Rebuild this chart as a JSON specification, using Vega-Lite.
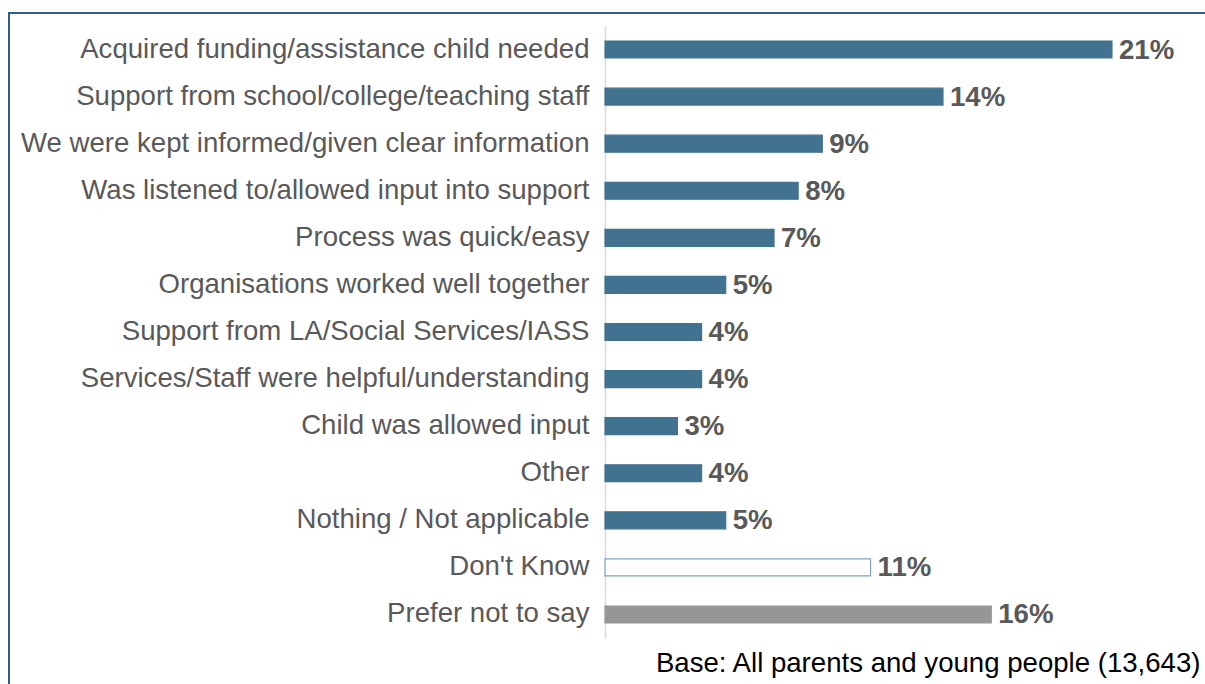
{
  "$schema": "https://vega.github.io/schema/vega-lite/v6.json",
  "autosize": {"type": "none"},
  "padding": {"left": 9, "top": 13, "right": 0, "bottom": 0},
  "width": 1200,
  "height": 700,
  "background": "white",
  "config": {
    "view": {"stroke": "#2E6089", "strokeWidth": 2},
    "font": "Liberation Sans"
  },
  "data": {
    "values": [
      {"label": "Acquired funding/assistance child needed", "pct": 0.21, "grp": "main"},
      {"label": "Support from school/college/teaching staff", "pct": 0.14, "grp": "main"},
      {"label": "We were kept informed/given clear information", "pct": 0.09, "grp": "main"},
      {"label": "Was listened to/allowed input into support", "pct": 0.08, "grp": "main"},
      {"label": "Process was quick/easy", "pct": 0.07, "grp": "main"},
      {"label": "Organisations worked well together", "pct": 0.05, "grp": "main"},
      {"label": "Support from LA/Social Services/IASS", "pct": 0.04, "grp": "main"},
      {"label": "Services/Staff were helpful/understanding", "pct": 0.04, "grp": "main"},
      {"label": "Child was allowed input", "pct": 0.03, "grp": "main"},
      {"label": "Other", "pct": 0.04, "grp": "main"},
      {"label": "Nothing / Not applicable", "pct": 0.05, "grp": "main"},
      {"label": "Don't Know", "pct": 0.11, "grp": "dk"},
      {"label": "Prefer not to say", "pct": 0.16, "grp": "pns"}
    ]
  },
  "encoding": {
    "y": {
      "field": "label",
      "type": "nominal",
      "sort": null,
      "scale": {"range": [13, 625], "paddingInner": 0.64, "paddingOuter": 0.32},
      "axis": {
        "title": null,
        "orient": "left",
        "offset": -596,
        "ticks": false,
        "domainColor": "#D9D9D9",
        "domainWidth": 1.5,
        "labelPadding": 16,
        "labelFontSize": 27.6,
        "labelColor": "#595959",
        "labelFont": "Liberation Sans",
        "labelLimit": 700
      }
    },
    "x": {
      "field": "pct",
      "type": "quantitative",
      "scale": {"domain": [-0.2469, 0.2502], "zero": false, "nice": false},
      "axis": {
        "orient": "bottom",
        "offset": -42,
        "domain": false,
        "ticks": false,
        "labels": false,
        "grid": false,
        "title": "Base: All parents and young people (13,643)",
        "titleAnchor": "end",
        "titleAlign": "right",
        "titleX": 1191,
        "titleY": 0,
        "titleBaseline": "alphabetic",
        "titleFontSize": 27.6,
        "titleFontWeight": "normal",
        "titleColor": "#000000",
        "titleFont": "Liberation Sans"
      }
    }
  },
  "layer": [
    {
      "mark": {"type": "bar", "strokeWidth": 1.2},
      "encoding": {
        "x": {"datum": 0},
        "x2": {"field": "pct"},
        "fill": {
          "field": "grp",
          "type": "nominal",
          "scale": {"domain": ["main", "dk", "pns"], "range": ["#41728F", "#FFFFFF", "#969696"]},
          "legend": null
        },
        "stroke": {
          "field": "grp",
          "type": "nominal",
          "scale": {"domain": ["main", "dk", "pns"], "range": ["#41728F", "#7FA3BC", "#969696"]},
          "legend": null
        }
      }
    },
    {
      "mark": {"type": "text", "align": "left", "baseline": "middle", "dx": 7, "dy": 1, "fontSize": 27.6, "fontWeight": "bold", "color": "#595959", "font": "Liberation Sans"},
      "encoding": {
        "text": {"field": "pct", "type": "quantitative", "format": ".0%"},
        "x": {"field": "pct", "type": "quantitative"}
      }
    }
  ]
}
